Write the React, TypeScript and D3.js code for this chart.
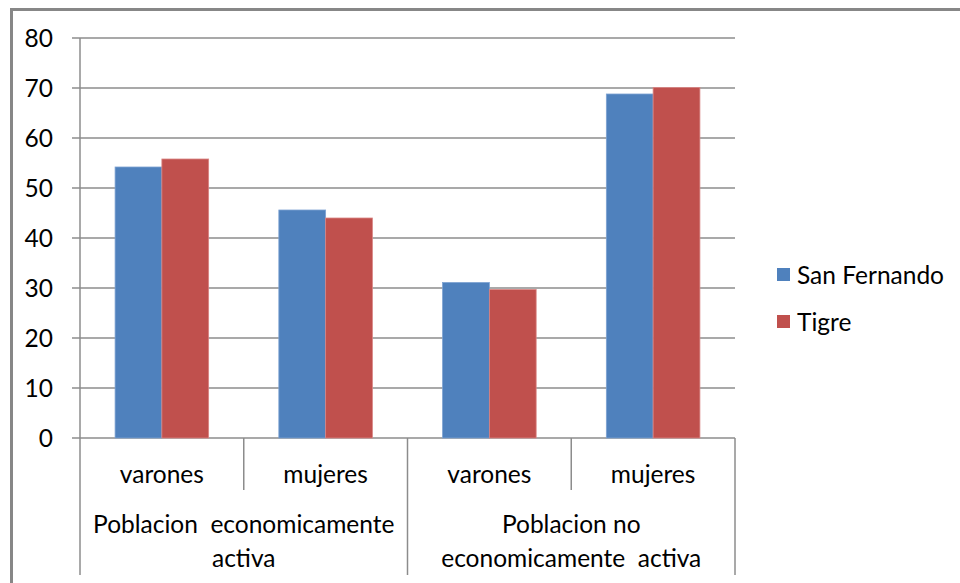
import React, { useEffect, useRef } from 'react';
import * as d3 from 'd3';

const subCategories = ['varones', 'mujeres', 'varones', 'mujeres'];
const groupLabels = [
  ['Poblacion  economicamente', 'activa'],
  ['Poblacion no', 'economicamente  activa'],
];
const seriesNames = ['San Fernando', 'Tigre'];
const seriesColors = ['#4f81bd', '#c0504d'];
const sanFernando = [54.2, 45.6, 31.1, 68.8];
const tigre = [55.8, 44.0, 29.7, 70.1];
const yTicks = [0, 10, 20, 30, 40, 50, 60, 70, 80];

const FONT = 'Lato, "Open Sans", sans-serif';
const FS = '24.5px';
const LINE = '#8c8c8c';

export default function App() {
  const svgRef = useRef<SVGSVGElement>(null);

  useEffect(() => {
    if (!svgRef.current) return;
    const svg = d3.select(svgRef.current);
    svg.selectAll('*').remove();

    const left = 80, right = 735, top = 38, bottom = 438;

    // outer frame (only top and left visible)
    svg.append('line').attr('x1', 11.5).attr('x2', 960).attr('y1', 9.5).attr('y2', 9.5)
      .attr('stroke', '#878787').attr('stroke-width', 3);
    svg.append('line').attr('x1', 11.5).attr('x2', 11.5).attr('y1', 8).attr('y2', 583)
      .attr('stroke', '#878787').attr('stroke-width', 3);

    const y = d3.scaleLinear().domain([0, 80]).range([bottom, top]);
    const x0 = d3.scaleBand<number>().domain(d3.range(subCategories.length)).range([left, right]).paddingInner(0);
    // Excel gap width 150%: 2 bars + 1.5 bar gap
    const barW = x0.bandwidth() / 3.5;

    // gridlines
    svg.append('g').selectAll('line').data(yTicks).join('line')
      .attr('x1', left - 8).attr('x2', right)
      .attr('y1', d => y(d)).attr('y2', d => y(d))
      .attr('stroke', LINE).attr('stroke-width', 1.5);

    svg.append('g').selectAll('text').data(yTicks).join('text')
      .attr('x', 53).attr('y', d => y(d)).attr('dy', '0.36em')
      .attr('text-anchor', 'end')
      .style('font-family', FONT).style('font-size', FS).attr('fill', '#000')
      .text(d => d);

    // bars
    const series = [sanFernando, tigre];
    series.forEach((vals, si) => {
      svg.append('g').selectAll('rect').data(vals).join('rect')
        .attr('x', (_, i) => (x0(i) as number) + barW * 0.75 + si * barW)
        .attr('y', d => y(d))
        .attr('width', barW)
        .attr('height', d => bottom - y(d))
        .attr('fill', seriesColors[si])
        .attr('stroke', si === 0 ? '#7da2d2' : '#d98584')
        .attr('stroke-width', 0.8);
    });

    // y axis
    svg.append('line').attr('x1', left).attr('x2', left).attr('y1', top).attr('y2', 575)
      .attr('stroke', LINE).attr('stroke-width', 1.5);

    // category dividers
    const edges = d3.range(subCategories.length + 1).map(i => left + i * x0.bandwidth());
    edges.forEach((ex, i) => {
      if (i === 0) return;
      const long = i % 2 === 0;
      svg.append('line').attr('x1', ex).attr('x2', ex).attr('y1', bottom).attr('y2', long ? 575 : 490)
        .attr('stroke', LINE).attr('stroke-width', 1.5);
    });

    svg.append('g').selectAll('text').data(subCategories).join('text')
      .attr('x', (_, i) => (x0(i) as number) + x0.bandwidth() / 2)
      .attr('y', 474).attr('dy', '0.36em')
      .attr('text-anchor', 'middle')
      .style('font-family', FONT).style('font-size', FS)
      .text(d => d);

    groupLabels.forEach((lines, gi) => {
      const cx = left + (gi * 2 + 1) * x0.bandwidth();
      lines.forEach((t, li) => {
        svg.append('text')
          .attr('x', cx).attr('y', 524 + li * 34).attr('dy', '0.36em')
          .attr('text-anchor', 'middle')
          .style('font-family', FONT).style('font-size', FS)
          .style('white-space', 'pre')
          .attr('xml:space', 'preserve')
          .text(t);
      });
    });

    // legend
    const lg = svg.append('g').attr('transform', 'translate(777,268)');
    seriesNames.forEach((name, i) => {
      lg.append('rect').attr('x', 0).attr('y', i * 47).attr('width', 13).attr('height', 13)
        .attr('fill', seriesColors[i]);
      lg.append('text').attr('x', 20).attr('y', i * 47 + 7).attr('dy', '0.36em')
        .style('font-family', FONT).style('font-size', FS)
        .text(name);
    });
  }, []);

  return (
    <svg ref={svgRef} width={960} height={583}
      style={{ position: 'absolute', left: 0, top: 0, background: '#fff' }} />
  );
}
